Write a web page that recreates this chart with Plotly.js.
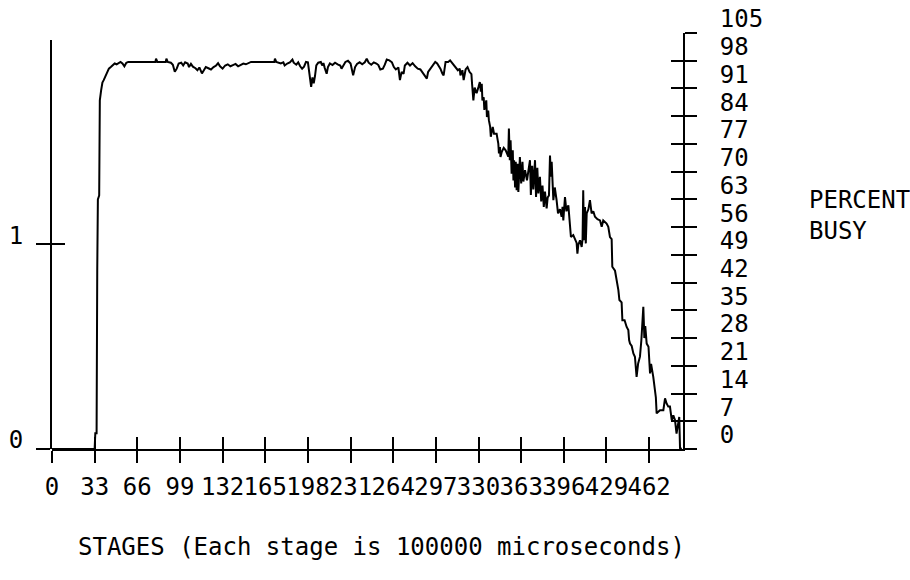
<!DOCTYPE html>
<html>
<head>
<meta charset="utf-8">
<script src="https://cdn.plot.ly/plotly-3.0.1.min.js"></script>
<style>
  html, body { margin: 0; padding: 0; background: #fff; }
  #chart { width: 910px; height: 580px; }
</style>
</head>
<body>
<div id="chart"></div>
<script>
// ---- data ----
const stages = [
  0, 33, 33.5, 34.5, 35, 35.5, 36.5, 37, 38, 39, 40, 41.5, 43, 44, 45.5, 47, 48.5, 50, 51.5, 53, 54.5, 56, 57.5, 59,
  80, 80.5, 81.5, 88, 88.5, 89.5, 92, 93.5, 95, 96.5, 98, 100, 101.5, 103, 105, 106, 107.5, 109, 111, 112.5, 114,
  116, 117.5, 119, 121, 123, 125, 127, 128.5, 130, 132, 134, 136, 138, 140, 142, 144, 146, 148, 150, 152, 154,
  172, 172.5, 173.5, 177, 179, 180, 182, 184, 186, 187, 189, 190.5, 192, 193.5, 195, 196.5, 198, 199.5, 200.5,
  201.5, 202.5, 203.5, 204.5, 206, 208, 209, 210, 211, 212.5, 213.5, 215, 217, 219, 221, 223, 224, 225.5, 227,
  229, 231, 233, 234.5, 236, 238, 240, 242, 243.5, 245, 247, 249, 251, 252.5, 254, 256, 257.5, 259, 261, 263,
  264.5, 266, 268, 269.2, 270.5, 272, 273, 275, 277, 279, 281, 283, 285, 287, 289, 290, 291, 293, 295, 296.5,
  298, 299.5, 300.5, 302, 303, 304.5, 306.5, 308, 310, 312, 314, 315.5, 316, 317.5, 318.5, 320, 321.5, 323,
  324.5, 325, 326, 327, 328.5, 330, 331, 331.8, 332.5, 333, 334, 334.5, 336, 336.5, 337.5, 338, 339, 339.5, 341,
  342, 344, 344.5, 345.3, 345.8, 346.6, 347, 348, 349.5, 351, 352, 353, 353.5, 354.2, 354.8, 355.6, 356.5, 357,
  357.5, 358.3, 358.8, 359.5, 360.2, 360.8, 361.5, 362, 363, 364, 364.7, 366, 367.5, 368.5, 369.8, 370.5, 371.5,
  372.4, 373.7, 374.5, 375.5, 376.3, 377.5, 378.5, 379.5, 380.5, 381.4, 382.7, 383.5, 384.5, 385.3, 386, 386.6,
  387.9, 389, 390.4, 391.5, 393, 394.3, 395, 395.6, 396.9, 398, 399.5, 400, 400.8, 401.5, 403.3, 404.6, 405.9,
  406.5, 407.2, 408.5, 409.8, 410.5, 411, 411.6, 412.4, 413, 413.7, 415, 416.2, 417.5, 418.8, 420.1, 422, 424,
  425.3, 426.5, 428, 429.1, 430.4, 431.7, 433, 433.5, 435.6, 436.5, 438.2, 439, 440.7, 441.3, 443, 444.6, 445.9,
  446.5, 447.2, 448.5, 449.8, 451, 452.3, 453.5, 454.9, 456, 457.5, 458.3, 459, 460.1, 461.5, 462.7, 463.5,
  465.2, 466.5, 467.2, 467.8, 470.4, 473, 474.3, 475.5, 476.8, 478.1, 479.5, 480.7, 482, 483.2, 484.6, 485.3,
  485.9, 487.2
];
const percentBusy = [
  0, 0, 4, 4, 45, 63, 64, 88, 90.5, 92.5, 93.1, 94.3, 95.2, 96, 96.4, 96.8, 97.3, 97.1, 97.5, 97.7, 97.3, 96.6, 97.5, 97.7,
  97.7, 98.5, 97.7, 97.7, 98.5, 97.7, 97.5, 97.0, 95.2, 96.0, 97.3, 97.5, 96.8, 97.6, 97.3, 96.4, 97.2, 96.5, 96.1, 95.6, 96.3,
  94.8, 95.6, 96.4, 96.1, 95.8, 96.4, 96.8, 97.4, 96.6, 96.0, 96.8, 97.1, 96.6, 96.9, 97.2, 96.6, 97.0, 97.3, 97.1, 97.5, 97.7,
  97.7, 98.5, 97.7, 97.3, 97.6, 96.8, 97.3, 97.6, 98.3, 97.5, 97.0, 97.6, 96.6, 96.0, 96.5, 97.7, 97.6, 94.5, 91.4,
  93.8, 92.3, 94.2, 96.8, 97.5, 97.7, 96.8, 97.4, 96.2, 94.7, 96.4, 97.3, 96.9, 97.5, 97.1, 96.8, 96.0, 96.8, 97.7,
  98.0, 97.3, 94.3, 96.4, 97.2, 97.6, 97.1, 97.6, 98.5, 97.5, 97.0, 97.6, 97.3, 96.9, 95.8, 96.0, 97.0, 98.3, 98.1, 97.6,
  96.4, 95.8, 96.3, 93.1, 95.2, 94.7, 96.8, 97.5, 96.8, 97.4, 96.6, 96.0, 95.8, 94.8, 94.0, 93.5, 95.2, 96.0, 96.8, 97.7,
  97.3, 96.7, 96.0, 94.8, 94.3, 97.7, 97.7, 98.1, 97.3, 96.6, 95.6, 96.0, 94.3, 95.6, 93.1, 95.8, 96.4, 95.2,
  94.6, 92.2, 88.0, 91.2, 89.8, 91.4, 92.6, 90.2, 92.2, 88.0, 88.8, 85.6, 88.0, 83.8, 85.4, 83.0, 81.3, 78.8, 81.3,
  79.6, 79.6, 78.6, 77.1, 74.6, 76.2, 73.7, 75.0, 76.0, 75.4, 74.6, 73.8, 80.9, 72.9, 77.9, 69.5, 75.4, 67.8,
  72.9, 66.0, 72.5, 65.3, 72.0, 64.9, 70.0, 73.7, 67.0, 72.5, 67.5, 70.4, 67.8, 70.0, 72.9, 64.1, 71.5,
  65.5, 72.9, 63.6, 71.0, 64.5, 68.7, 62.5, 66.5, 61.1, 65.0, 60.7, 63.5, 64.0, 74.1, 68.7, 72.5,
  62.8, 66.0, 62.8, 59.5, 60.5, 58.6, 61.1, 57.7, 63.6, 60.0, 61.5, 59.0, 56.9, 53.5, 54.0, 52.7, 52.0,
  49.3, 51.5, 52.7, 51.0, 53.0, 65.3, 52.7, 61.1, 51.9, 59.5, 60.5, 62.8, 59.5, 60.0, 58.6, 58.0, 57.7,
  56.1, 57.7, 57.3, 56.9, 56.1, 53.5, 53.0, 46.0, 45.0, 43.5, 40.1, 37.6, 37.0, 32.5, 32.5, 30.8, 30.0,
  27.5, 26.6, 26.0, 24.1, 23.3, 18.2, 21.6, 23.3, 27.5, 35.9, 28.0, 31.0, 26.6, 25.8, 19.1, 21.5,
  18.2, 14.9, 13.0, 9.0, 9.8, 9.8, 12.8, 11.5, 10.7, 10.7, 7.3, 8.5, 7.3, 3.9, 6.5, 8.1,
  0.2, 0
];
const stageTicks = [0, 33, 66, 99, 132, 165, 198, 231, 264, 297, 330, 363, 396, 429, 462];
const stageTickLabels = ["0", "33", "66", "99", "132", "165", "198", "231", "264", "297", "330", "363", "396", "429", "462"];
const percentTicks = [0, 7, 14, 21, 28, 35, 42, 49, 56, 63, 70, 77, 84, 91, 98, 105];
const percentTickLabels = ["0", "7", "14", "21", "28", "35", "42", "49", "56", "63", "70", "77", "84", "91", "98", "105"];
const leftTicks = [0, 1];
const leftTickLabels = ["0", "1"];
const xTitle = "STAGES (Each stage is 100000 microseconds)";
const yRightTitle = "PERCENT<br>BUSY";

// ---- chart ----
const FONT = { family: "DejaVu Sans Mono, Liberation Mono, monospace", size: 24, color: "#000" };
const INK = "#000";
const empty = (xa, ya) => ({ x: [], y: [], xaxis: xa, yaxis: ya, type: "scatter", mode: "lines",
  showlegend: false, hoverinfo: "skip" });

const traces = [
  { x: stages, y: percentBusy, xaxis: "x", yaxis: "y", type: "scatter", mode: "lines",
    line: { color: INK, width: 2 }, hoverinfo: "skip", showlegend: false },
  empty("x2", "y"), empty("x", "y2"), empty("x", "y3"), empty("x", "y4")
];

const xRange = [0, 488.2];
const common = { showgrid: false, zeroline: false, fixedrange: true };
const layout = {
  width: 910, height: 580,
  margin: { l: 52, r: 227, t: 33, b: 131, pad: 0 },
  paper_bgcolor: "#fff", plot_bgcolor: "rgba(0,0,0,0)",
  font: FONT,
  showlegend: false,
  xaxis: Object.assign({
    range: xRange, domain: [0, 1], anchor: "y",
    showline: true, linecolor: INK, linewidth: 2,
    ticks: "outside", ticklen: 12, tickwidth: 2, tickcolor: INK,
    tickmode: "array", tickvals: stageTicks, ticktext: stageTickLabels,
    tickangle: 0, tickfont: FONT, ticklabelstandoff: 3
  }, common),
  xaxis2: Object.assign({
    range: xRange, overlaying: "x", anchor: "y", side: "bottom",
    showline: false, ticks: "inside", ticklen: 12, tickwidth: 2, tickcolor: INK,
    tickmode: "array", tickvals: stageTicks, showticklabels: false
  }, common),
  yaxis: Object.assign({
    range: [0, 105], domain: [0, 1], anchor: "x", side: "right",
    showline: true, linecolor: INK, linewidth: 2,
    ticks: "outside", ticklen: 12, tickwidth: 2, tickcolor: INK,
    tickmode: "array", tickvals: percentTicks, ticktext: percentTickLabels,
    tickfont: FONT, ticklabelshift: -14, ticklabelstandoff: 18
  }, common),
  yaxis2: Object.assign({
    range: [0, 105], overlaying: "y", anchor: "x", side: "right",
    showline: false, ticks: "inside", ticklen: 12, tickwidth: 2, tickcolor: INK,
    tickmode: "array", tickvals: percentTicks, showticklabels: false
  }, common),
  yaxis3: Object.assign({
    range: [0, 2], domain: [0, 0.9832], anchor: "x", side: "left",
    showline: true, linecolor: INK, linewidth: 2,
    ticks: "outside", ticklen: 14, tickwidth: 2, tickcolor: INK,
    tickmode: "array", tickvals: leftTicks, ticktext: leftTickLabels,
    tickfont: FONT, ticklabelshift: -9, ticklabelstandoff: 8
  }, common),
  yaxis4: Object.assign({
    range: [0, 2], overlaying: "y3", anchor: "x", side: "left",
    showline: false, ticks: "inside", ticklen: 13, tickwidth: 2, tickcolor: INK,
    tickmode: "array", tickvals: [1], showticklabels: false
  }, common),
  annotations: [
    { text: xTitle, xref: "paper", yref: "paper", x: 0.5214, y: -0.2356,
      xanchor: "center", yanchor: "middle", showarrow: false, font: FONT },
    { text: yRightTitle, xref: "paper", yref: "paper", x: 1.1965, y: 0.5613,
      xanchor: "left", yanchor: "middle", align: "left", showarrow: false, font: FONT }
  ]
};

Plotly.newPlot("chart", traces, layout, { displayModeBar: false, staticPlot: true });
</script>
</body>
</html>
